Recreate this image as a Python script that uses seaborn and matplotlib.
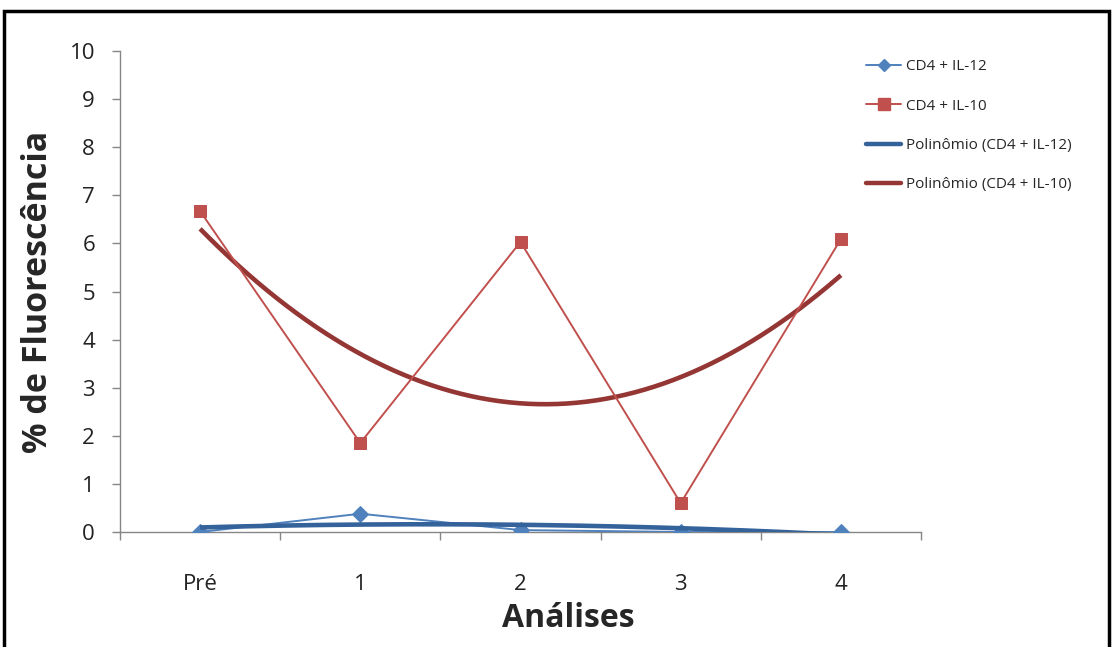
import numpy as np
import pandas as pd
import matplotlib
matplotlib.use("Agg")
import matplotlib.pyplot as plt
import seaborn as sns
from matplotlib.patches import Rectangle
from matplotlib.lines import Line2D

# Data
categories = ["Pré", "1", "2", "3", "4"]
il12 = [0.0, 0.38, 0.04, 0.0, 0.0]
il10 = [6.67, 1.85, 6.03, 0.60, 6.09]
series_names = ["CD4 + IL-12", "CD4 + IL-10"]
trend_names = ["Polinômio (CD4 + IL-12)", "Polinômio (CD4 + IL-10)"]

sns.set_style("white")
plt.rcParams["font.family"] = ["Open Sans", "DejaVu Sans"]

fig = plt.figure(figsize=(11.13, 6.47), dpi=100)
W, H = 1113, 647
ax = fig.add_axes([120 / W, (H - 532) / H, 801 / W, (532 - 51) / H])

pos = np.arange(len(categories))
df = pd.DataFrame({
    "pos": np.concatenate([pos, pos]),
    "valor": il12 + il10,
    "serie": [series_names[0]] * len(pos) + [series_names[1]] * len(pos),
})

colors = {"CD4 + IL-12": "#4F81BD", "CD4 + IL-10": "#C0504D"}
trend_colors = ["#34629A", "#943634"]
markers = {"CD4 + IL-12": "D", "CD4 + IL-10": "s"}
msize = {"CD4 + IL-12": 8, "CD4 + IL-10": 9}

for name in series_names:
    sub = df[df["serie"] == name]
    sns.lineplot(data=sub, x="pos", y="valor", ax=ax, color=colors[name],
                 marker=markers[name], markersize=msize[name],
                 markeredgecolor=colors[name], linewidth=1.4, zorder=3,
                 legend=False)

# Second-order polynomial trend lines (clipped by the axes at zero)
xs = np.linspace(0, 4, 200)
for vals, col, z in zip([il12, il10], trend_colors, [4, 2]):
    coef = np.polyfit(pos + 1, vals, 2)
    ys = np.polyval(coef, xs + 1)
    sns.lineplot(x=xs, y=ys, ax=ax, color=col, linewidth=3.3, zorder=z,
                 legend=False, solid_capstyle="butt")

ax.set_xlim(-0.5, 4.5)
ax.set_ylim(0, 10)
ax.set_yticks(range(0, 11))
ax.set_xticks(pos)
ax.set_xticklabels(categories)
ax.set_xticks(np.arange(-0.5, 4.6, 1), minor=True)

for side in ["top", "right"]:
    ax.spines[side].set_visible(False)
for side in ["left", "bottom"]:
    ax.spines[side].set_color("#868686")
    ax.spines[side].set_linewidth(1.0)

ax.tick_params(axis="y", which="major", direction="out", length=6, width=1,
               color="#868686", labelsize=16, labelcolor="#222222", pad=12, left=True)
ax.tick_params(axis="x", which="major", length=0, labelsize=16,
               labelcolor="#222222", pad=30)
ax.tick_params(axis="x", which="minor", direction="out", length=6, width=1,
               color="#868686", bottom=True)

ax.set_xlabel("Análises", fontsize=23, fontweight="bold")
ax.xaxis.set_label_coords((568 - 120) / 801, -0.145)
ax.set_ylabel("")
fig.text(38 / W, 1 - 292 / H, "% de Fluorescência", rotation=90,
         ha="center", va="center", fontsize=24.5, fontweight="bold")

handles = [
    Line2D([], [], color=colors[series_names[0]], marker="D", markersize=6, linewidth=1.4),
    Line2D([], [], color=colors[series_names[1]], marker="s", markersize=8, linewidth=1.4),
    Line2D([], [], color=trend_colors[0], linewidth=3.2),
    Line2D([], [], color=trend_colors[1], linewidth=3.2),
]
fig.legend(handles, series_names + trend_names, loc="upper left",
           bbox_to_anchor=(860 / W, 1 - 53 / H), frameon=False, fontsize=11,
           handlelength=2.3, handletextpad=0.3, labelspacing=1.6,
           borderaxespad=0)

# Outer frame
fig.add_artist(Rectangle((4 / W, -0.05), (1109 - 4) / W, 1.05 - 11 / H,
                         transform=fig.transFigure, fill=False,
                         edgecolor="black", linewidth=2.5, clip_on=False))

fig.savefig("out.png", dpi=100)
